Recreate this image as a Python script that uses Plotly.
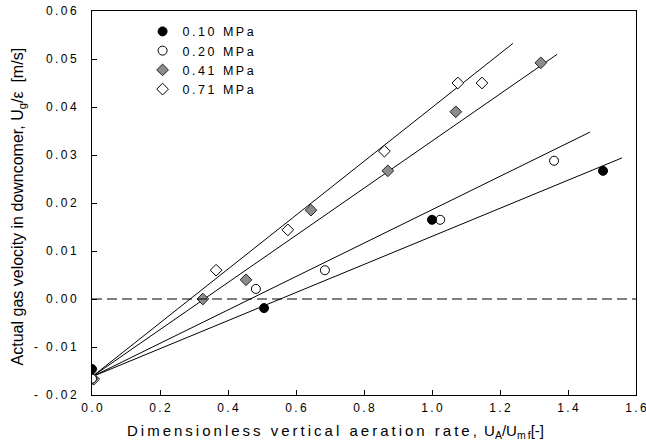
import numpy as np
import plotly.graph_objects as go

# Measured points: dimensionless aeration rate vs actual gas velocity in downcomer
x_010 = [0.0, 0.506, 1.00, 1.503]
y_010 = [-0.0146, -0.0019, 0.0165, 0.0267]

x_020 = [0.0, 0.482, 0.685, 1.024, 1.359]
y_020 = [-0.0166, 0.0021, 0.0060, 0.0165, 0.0288]

x_041 = [0.0, 0.326, 0.453, 0.644, 0.87, 1.07, 1.32]
y_041 = [-0.0166, 0.0, 0.0040, 0.0185, 0.0267, 0.0390, 0.0492]

x_071 = [0.005, 0.365, 0.576, 0.86, 1.076, 1.147]
y_071 = [-0.0167, 0.0060, 0.0144, 0.0308, 0.0450, 0.0450]

# Linear fits per pressure: intercept, slope, and x extent of the drawn line
series_names = ["0.10 MPa", "0.20 MPa", "0.41 MPa", "0.71 MPa"]
fit_intercept = [-0.0162, -0.0162, -0.0162, -0.0162]
fit_slope = [0.02925, 0.0348, 0.0491, 0.0561]
fit_xmax = [1.559, 1.465, 1.368, 1.238]

x_ticks = [0.0, 0.2, 0.4, 0.6, 0.8, 1.0, 1.2, 1.4, 1.6]
y_ticks = [-0.02, -0.01, 0.00, 0.01, 0.02, 0.03, 0.04, 0.05, 0.06]

SP = "\u2009"  # thin space used for the wide letter spacing


def spaced(s):
    return SP.join(list(s))


FONT = "Liberation Sans, Arial, sans-serif"

fig = go.Figure()

# fitted lines (drawn first so the markers sit on top)
for b, m, xm in zip(fit_intercept, fit_slope, fit_xmax):
    xs = np.array([0.0, xm])
    fig.add_trace(go.Scatter(x=xs, y=b + m * xs, mode="lines",
                             line=dict(color="black", width=1),
                             showlegend=False, hoverinfo="skip"))

marker_styles = [
    dict(symbol="circle", size=9, color="black", line=dict(color="black", width=1)),
    dict(symbol="circle", size=9, color="white", line=dict(color="black", width=1)),
    dict(symbol="diamond", size=9, color="#8c8c8c", line=dict(color="#222222", width=1)),
    dict(symbol="diamond", size=9, color="white", line=dict(color="black", width=1)),
]
data_x = [x_010, x_020, x_041, x_071]
data_y = [y_010, y_020, y_041, y_071]

# draw 0.71 first so the 0.10 / 0.20 circles stay visible where they overlap
for i in [3, 2, 1, 0]:
    fig.add_trace(go.Scatter(x=data_x[i], y=data_y[i], mode="markers",
                             marker=marker_styles[i],
                             name=spaced(series_names[i]),
                             legendrank=i + 1))

# dashed zero reference
fig.add_shape(type="line", xref="paper", x0=0, x1=1, yref="y", y0=0, y1=0,
              line=dict(color="black", width=1, dash="10px,5px"))

# axis titles
fig.add_annotation(
    xref="paper", yref="paper", x=0.447, y=-0.096,
    xanchor="center", yanchor="middle", showarrow=False,
    text=spaced("Dimensionless vertical aeration rate, ") +
    "U<sub>A</sub>/U<sub>" + spaced("mf") + "</sub>[-]",
    font=dict(size=15, family=FONT, color="black"))
fig.add_annotation(
    xref="paper", yref="paper", x=-0.135, y=0.49,
    xanchor="center", yanchor="middle", showarrow=False, textangle=-90,
    text="Actual gas velocity in downcomer, U<sub>g</sub>/ε  [m/s]",
    font=dict(size=16, family=FONT, color="black"))

fig.update_layout(
    width=646, height=445,
    margin=dict(l=92, r=10, t=11, b=50, autoexpand=False),
    paper_bgcolor="white", plot_bgcolor="white",
    font=dict(family=FONT, color="black", size=12),
    showlegend=True,
    legend=dict(x=0.093, y=0.985, xanchor="left", yanchor="top",
                bgcolor="rgba(0,0,0,0)", font=dict(size=12.5, family=FONT),
                tracegroupgap=0, itemwidth=30, traceorder="normal"),
)

fig.update_xaxes(
    range=[0, 1.6], tickvals=x_ticks,
    ticktext=[spaced(f"{v:.1f}") for v in x_ticks],
    ticks="inside", ticklen=5, tickcolor="black",
    showline=True, linecolor="black", linewidth=1, mirror=True,
    showgrid=False, zeroline=False, ticklabeloverflow="allow",
    automargin=False,
    tickfont=dict(size=12), ticklabelstandoff=2,
)
fig.update_yaxes(
    range=[-0.02, 0.06], tickvals=y_ticks,
    ticktext=[spaced(f"{v:.2f}".replace("-", "- ")) for v in y_ticks],
    ticks="inside", ticklen=5, tickcolor="black",
    showline=True, linecolor="black", linewidth=1, mirror=True,
    showgrid=False, zeroline=False, ticklabeloverflow="allow",
    automargin=False,
    tickfont=dict(size=12), ticklabelstandoff=12,
)

fig.write_html("out.html")
